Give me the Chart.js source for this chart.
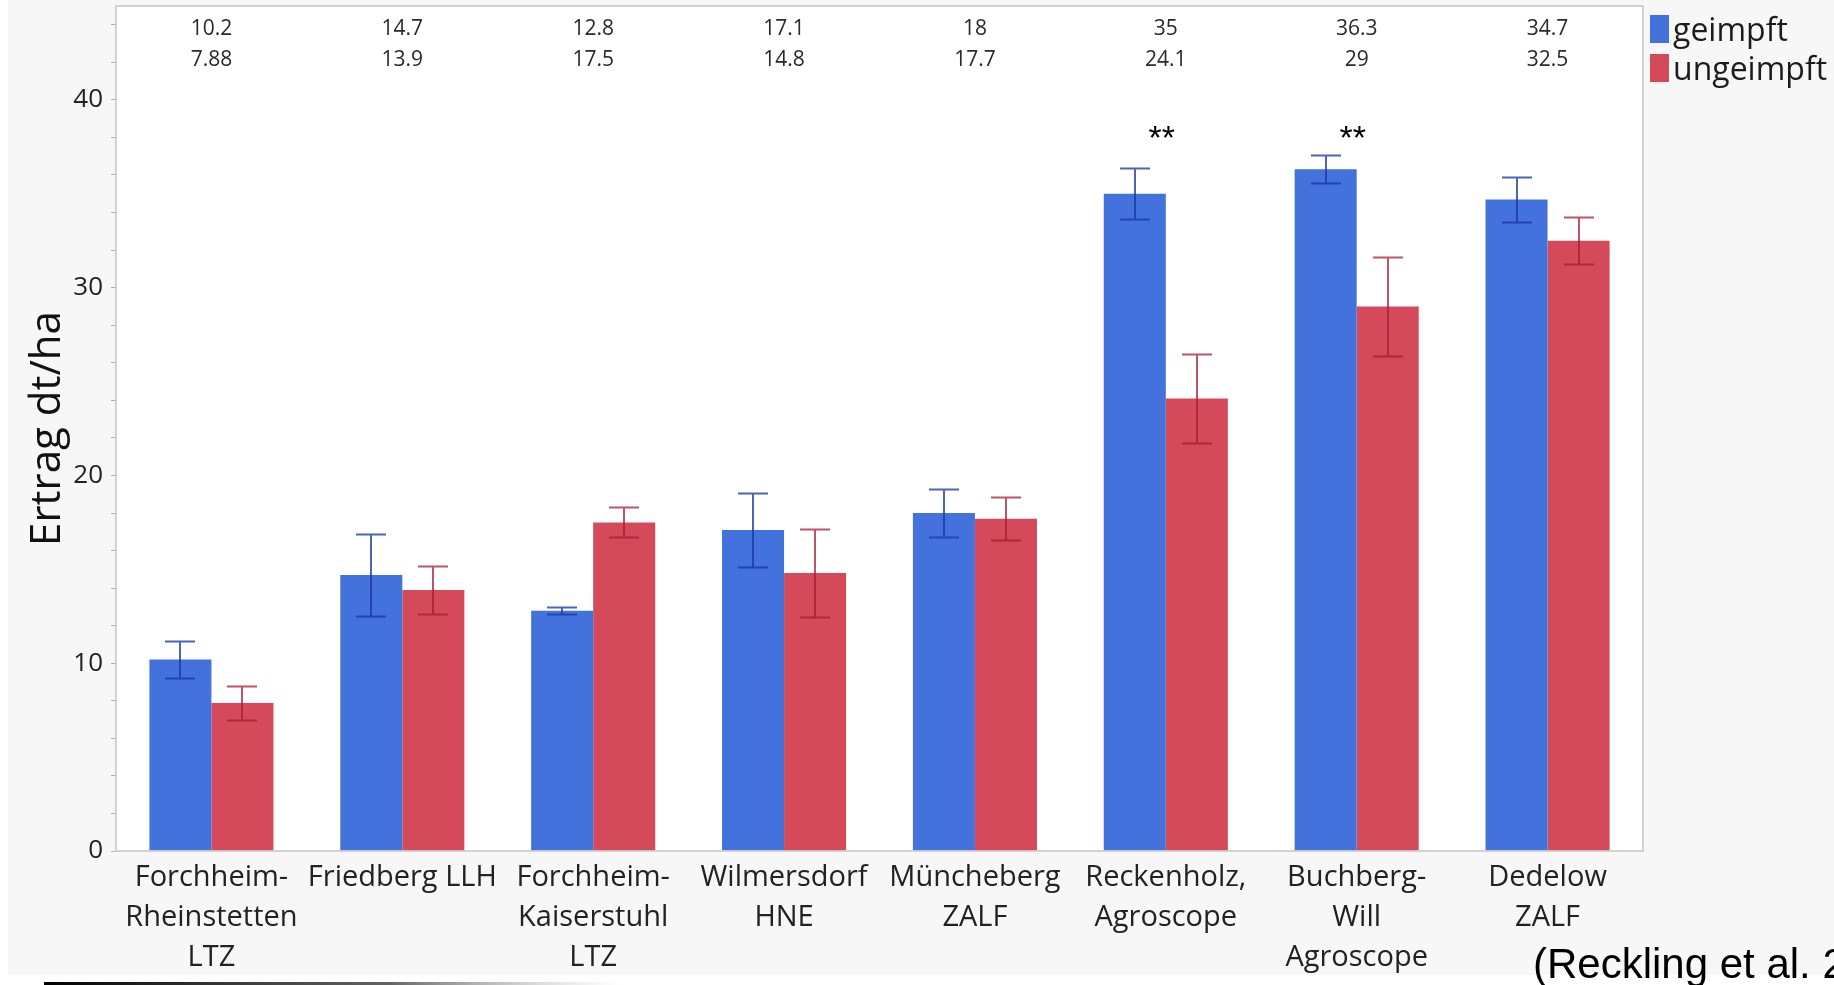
<!DOCTYPE html>
<html>
<head>
<meta charset="utf-8">
<script src="https://cdn.jsdelivr.net/npm/chart.js@4.4.1/dist/chart.umd.min.js"></script>
<style>
  html, body { margin: 0; padding: 0; background: #fff; overflow: hidden; }
  canvas { display: block; }
</style>
</head>
<body>
<canvas id="c" width="1834" height="985"></canvas>
<script>
// Trial sites (multi-line axis labels)
const sites = [
  ['Forchheim-', 'Rheinstetten', 'LTZ'],
  ['Friedberg LLH'],
  ['Forchheim-', 'Kaiserstuhl', 'LTZ'],
  ['Wilmersdorf', 'HNE'],
  ['Müncheberg', 'ZALF'],
  ['Reckenholz,', 'Agroscope'],
  ['Buchberg-', 'Will', 'Agroscope'],
  ['Dedelow', 'ZALF']
];
const seriesNames = ['geimpft', 'ungeimpft'];
// Mean yield (dt/ha)
const geimpft   = [10.2, 14.7, 12.8, 17.1, 18, 35, 36.3, 34.7];
const ungeimpft = [7.88, 13.9, 17.5, 14.8, 17.7, 24.1, 29, 32.5];
// Error bar half-widths (dt/ha)
const geimpftErr   = [1.0, 2.2, 0.2, 1.95, 1.3, 1.35, 0.75, 1.2];
const ungeimpftErr = [0.9, 1.3, 0.8, 2.35, 1.15, 2.35, 2.65, 1.25];
// Significance markers per site
const significance = ['', '', '', '', '', '**', '**', ''];
const signifLevel = 38.25;
// Labelled y ticks (minor ticks every 2)
const yTickLabels = [0, 10, 20, 30, 40];
const yMax = 45;
const yTitle = 'Ertrag dt/ha';
const citation = '(Reckling et al. 2020)';

const BLUE = '#4472dc';
const RED = '#d44a5a';
const FONT = "'Open Sans', 'Noto Sans', sans-serif";

const errors = [geimpftErr, ungeimpftErr];
const errColors = ['rgba(28,55,168,0.78)', 'rgba(168,26,46,0.74)'];

const backdrop = {
  id: 'backdrop',
  beforeDraw(chart) {
    const {ctx, width, height, chartArea: a} = chart;
    ctx.save();
    ctx.fillStyle = '#ffffff';
    ctx.fillRect(0, 0, width, height);
    ctx.fillStyle = '#f7f7f7';
    ctx.fillRect(8, 0, width - 8, 975);
    ctx.fillStyle = '#ffffff';
    ctx.fillRect(a.left, a.top, a.right - a.left, a.bottom - a.top);
    ctx.restore();
  }
};

const errorBars = {
  id: 'errorBars',
  afterDatasetsDraw(chart) {
    const {ctx} = chart;
    const y = chart.scales.y;
    const half = 15;
    ctx.save();
    chart.data.datasets.forEach((ds, di) => {
      const meta = chart.getDatasetMeta(di);
      ctx.strokeStyle = errColors[di];
      ctx.lineWidth = 2;
      meta.data.forEach((bar, j) => {
        const v = ds.data[j];
        const e = errors[di][j];
        const yTop = Math.round(y.getPixelForValue(v + e)) + 0.5;
        const yBot = Math.round(y.getPixelForValue(v - e)) + 0.5;
        const x = Math.round(bar.x);
        ctx.beginPath();
        ctx.moveTo(x, yTop); ctx.lineTo(x, yBot);
        ctx.moveTo(x - half, yTop); ctx.lineTo(x + half, yTop);
        ctx.moveTo(x - half, yBot); ctx.lineTo(x + half, yBot);
        ctx.stroke();
      });
    });
    ctx.restore();
  }
};

const annotations = {
  id: 'annotations',
  afterDraw(chart) {
    const {ctx, chartArea: a} = chart;
    const xs = chart.scales.x;
    const ys = chart.scales.y;
    ctx.save();

    // plot frame
    ctx.strokeStyle = '#c8c8c8';
    ctx.lineWidth = 1.6;
    ctx.strokeRect(a.left, a.top, a.right - a.left, a.bottom - a.top);

    // mean values above the plot
    ctx.fillStyle = '#2a2a2a';
    ctx.font = '21px ' + FONT;
    ctx.textAlign = 'center';
    ctx.textBaseline = 'middle';
    sites.forEach((s, j) => {
      const x = xs.getPixelForValue(j);
      ctx.fillText(String(geimpft[j]), x, 29);
      ctx.fillText(String(ungeimpft[j]), x, 60);
    });

    // significance stars
    ctx.fillStyle = '#000';
    ctx.font = "34px 'Liberation Sans', Arial, sans-serif";
    significance.forEach((s, j) => {
      if (!s) return;
      ctx.fillText(s, xs.getPixelForValue(j) - 4, ys.getPixelForValue(signifLevel) + 7);
    });

    // legend
    ctx.textAlign = 'left';
    ctx.font = '32px ' + FONT;
    chart.data.datasets.forEach((ds, i) => {
      const top = 15 + i * 39;
      ctx.fillStyle = ds.backgroundColor;
      ctx.fillRect(1650, top, 19, 28);
      ctx.fillStyle = '#1c1c1c';
      ctx.fillText(ds.label, 1673, top + 17);
    });

    // source note
    ctx.fillStyle = '#000';
    ctx.font = "42px 'Liberation Sans', Arial, sans-serif";
    ctx.textBaseline = 'alphabetic';
    ctx.fillText(citation, 1533, 978);

    // slide rule line at the bottom
    const g = ctx.createLinearGradient(44, 0, 620, 0);
    g.addColorStop(0, 'rgba(0,0,0,1)');
    g.addColorStop(0.6, 'rgba(60,60,60,0.8)');
    g.addColorStop(1, 'rgba(160,160,160,0)');
    ctx.fillStyle = g;
    ctx.fillRect(44, 982, 576, 3);

    ctx.restore();
  }
};

new Chart(document.getElementById('c'), {
  type: 'bar',
  data: {
    labels: sites,
    datasets: [
      { label: seriesNames[0], data: geimpft, backgroundColor: BLUE, borderWidth: 0,
        categoryPercentage: 0.65, barPercentage: 1 },
      { label: seriesNames[1], data: ungeimpft, backgroundColor: RED, borderWidth: 0,
        categoryPercentage: 0.65, barPercentage: 1 }
    ]
  },
  options: {
    responsive: false,
    devicePixelRatio: 1,
    animation: false,
    events: [],
    layout: { padding: { left: 0, top: 6, right: 191, bottom: 0 } },
    plugins: {
      legend: { display: false },
      tooltip: { enabled: false },
      title: { display: false }
    },
    scales: {
      x: {
        grid: { display: false },
        border: { display: false },
        ticks: {
          autoSkip: false, maxRotation: 0, minRotation: 0, padding: -1,
          color: '#222',
          font: { family: FONT, size: 29, lineHeight: 1.38 }
        },
        afterFit(s) { s.height = 134; s.paddingLeft = 0; s.paddingRight = 0; }
      },
      y: {
        min: 0, max: yMax,
        grid: { drawOnChartArea: false, drawTicks: true, tickLength: 5, tickColor: '#b0b0b0', tickWidth: 1 },
        border: { display: false },
        ticks: {
          stepSize: 2, includeBounds: false, autoSkip: false, padding: 8,
          color: '#222',
          font: { family: FONT, size: 26 },
          callback: v => yTickLabels.includes(v) ? String(v) : ''
        },
        title: {
          display: true, text: yTitle, color: '#111',
          font: { family: FONT, size: 42 },
          padding: { top: 23, bottom: 0 }
        },
        afterFit(s) { s.width = 116; s.paddingTop = 0; s.paddingBottom = 0; }
      }
    }
  },
  plugins: [backdrop, errorBars, annotations]
});
</script>
</body>
</html>
